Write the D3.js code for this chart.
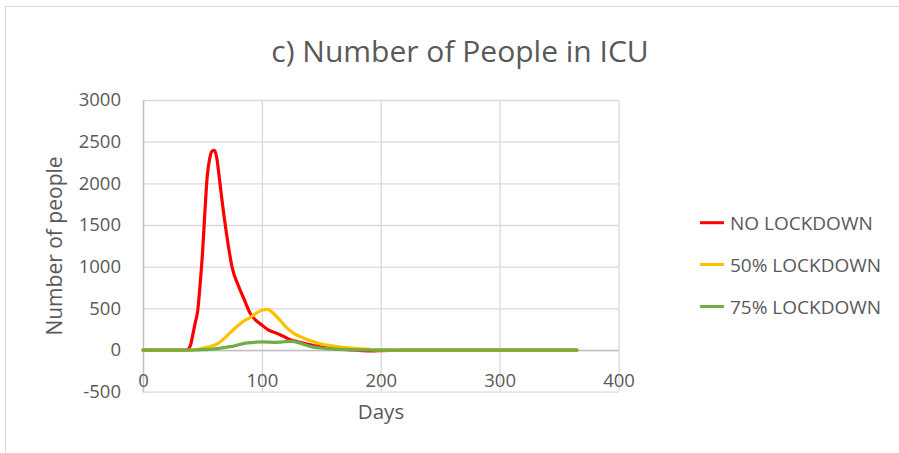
<!DOCTYPE html>
<html>
<head>
<meta charset="utf-8">
<script src="https://cdn.jsdelivr.net/npm/d3@7"></script>
<style>
  body { margin: 0; background: #fff; }
  text { font-family: "Open Sans", sans-serif; fill: #595959; }
</style>
</head>
<body>
<div id="chart"></div>
<script>
// days of the simulation (denser around the red peak)
var days = [0,5,10,15,20,25,30,35,38,
  40,42,44,46,48,50,52,54,56,58,60,62,64,66,68,70,72,
  75,80,85,90,95,100,105,110,115,120,125,130,135,140,145,150,155,160,165,170,175,180,185,190,195,200,
  210,220,230,240,250,260,270,280,290,300,310,320,330,340,350,360,365];

var noLockdown = [0,0,0,0,0,0,0,0,12,
  60,190,330,470,780,1150,1640,2080,2290,2385,2395,2310,2090,1850,1625,1420,1230,
  990,780,610,445,355,300,245,215,186,150,118,100,80,66,50,36,26,18,12,7,3,0,-6,-10,-10,-7,
  -3,-1,0,0,0,0,0,0,0,0,0,0,0,0,0,0,0];

var lockdown50 = [0,0,0,0,0,0,0,0,0,
  0,2,4,8,15,22,28,34,40,48,58,70,88,110,135,160,190,
  230,295,350,390,440,478,488,435,360,282,218,176,145,116,92,72,58,46,38,30,24,18,12,8,4,2,
  0,0,0,0,0,0,0,0,0,0,0,0,0,0,0,0,0];

var lockdown75 = [0,0,0,0,0,0,0,0,0,
  0,0,1,2,3,4,5,6,8,10,13,16,20,24,28,33,38,
  42,62,80,88,95,98,96,92,94,100,103,92,68,46,32,24,16,12,9,6,4,3,2,1,0,0,
  0,0,0,0,0,0,0,0,0,0,0,0,0,0,0,0,0];

var seriesNames = ["NO LOCKDOWN", "50% LOCKDOWN", "75% LOCKDOWN"];
var seriesColors = ["#ff0000", "#ffc000", "#70ad47"];
var xTicks = [0, 100, 200, 300, 400];
var yTicks = [-500, 0, 500, 1000, 1500, 2000, 2500, 3000];

var allSeries = [noLockdown, lockdown50, lockdown75];

var svg = d3.select("#chart").append("svg")
  .attr("width", 899)
  .attr("height", 453);

// chart frame
svg.append("rect")
  .attr("x", 5.5)
  .attr("y", 6.5)
  .attr("width", 1000)
  .attr("height", 1000)
  .attr("fill", "none")
  .attr("stroke", "#d9d9d9");

var x = d3.scaleLinear().domain([0, 400]).range([143, 618.5]);
var y = d3.scaleLinear().domain([-500, 3000]).range([391.7, 100]);
var plain = function(d) { return String(d); };

// horizontal gridlines
svg.append("g")
  .attr("transform", "translate(143,0)")
  .call(d3.axisLeft(y).tickValues(yTicks).tickSize(-(618.5 - 143)).tickFormat(""))
  .call(function(g) {
    g.select(".domain").remove();
    g.selectAll("line").attr("stroke", "#d9d9d9").attr("stroke-width", 1.3);
  });

// vertical gridlines
svg.append("g")
  .attr("transform", "translate(0,391.7)")
  .call(d3.axisBottom(x).tickValues(xTicks.slice(1)).tickSize(-(391.7 - 100)).tickFormat(""))
  .call(function(g) {
    g.select(".domain").remove();
    g.selectAll("line").attr("stroke", "#d9d9d9").attr("stroke-width", 1.3);
  });

// y axis
svg.append("g")
  .attr("transform", "translate(143,0)")
  .call(d3.axisLeft(y).tickValues(yTicks).tickSize(0).tickPadding(22).tickFormat(plain))
  .call(function(g) {
    g.select(".domain").attr("stroke", "#bfbfbf").attr("stroke-width", 1.5);
    g.selectAll("text").style("font-size", "18.5px").attr("fill", "#595959");
  });

// x axis crossing at zero
svg.append("g")
  .attr("transform", "translate(0," + y(0) + ")")
  .call(d3.axisBottom(x).tickValues(xTicks).tickSize(0).tickPadding(23.5).tickFormat(plain))
  .call(function(g) {
    g.select(".domain").attr("stroke", "#bfbfbf").attr("stroke-width", 1.5);
    g.selectAll("text").style("font-size", "18.5px").attr("fill", "#595959");
  });

var line = d3.line()
  .x(function(d, i) { return x(days[i]); })
  .y(function(d) { return y(d); })
  .curve(d3.curveMonotoneX);

allSeries.forEach(function(vals, i) {
  svg.append("path")
    .datum(vals)
    .attr("d", line)
    .attr("fill", "none")
    .attr("stroke", seriesColors[i])
    .attr("stroke-width", 3.2)
    .attr("stroke-linejoin", "round")
    .attr("stroke-linecap", "round");
});

// titles
svg.append("text")
  .text("c) Number of People in ICU")
  .attr("x", 460)
  .attr("y", 62)
  .attr("text-anchor", "middle")
  .style("font-size", "30px");

svg.append("text")
  .text("Days")
  .attr("x", 381)
  .attr("y", 419)
  .attr("text-anchor", "middle")
  .style("font-size", "20.5px");

svg.append("text")
  .text("Number of people")
  .attr("transform", "translate(62,246) rotate(-90)")
  .attr("text-anchor", "middle")
  .style("font-size", "21px");

// legend
var legendY = [222.7, 264.5, 306.5];
seriesNames.forEach(function(name, i) {
  svg.append("line")
    .attr("x1", 700)
    .attr("x2", 724)
    .attr("y1", legendY[i])
    .attr("y2", legendY[i])
    .attr("stroke", seriesColors[i])
    .attr("stroke-width", 3);
  svg.append("text")
    .text(name)
    .attr("x", 730)
    .attr("y", legendY[i] + 7)
    .style("font-size", "19px");
});
</script>
</body>
</html>
